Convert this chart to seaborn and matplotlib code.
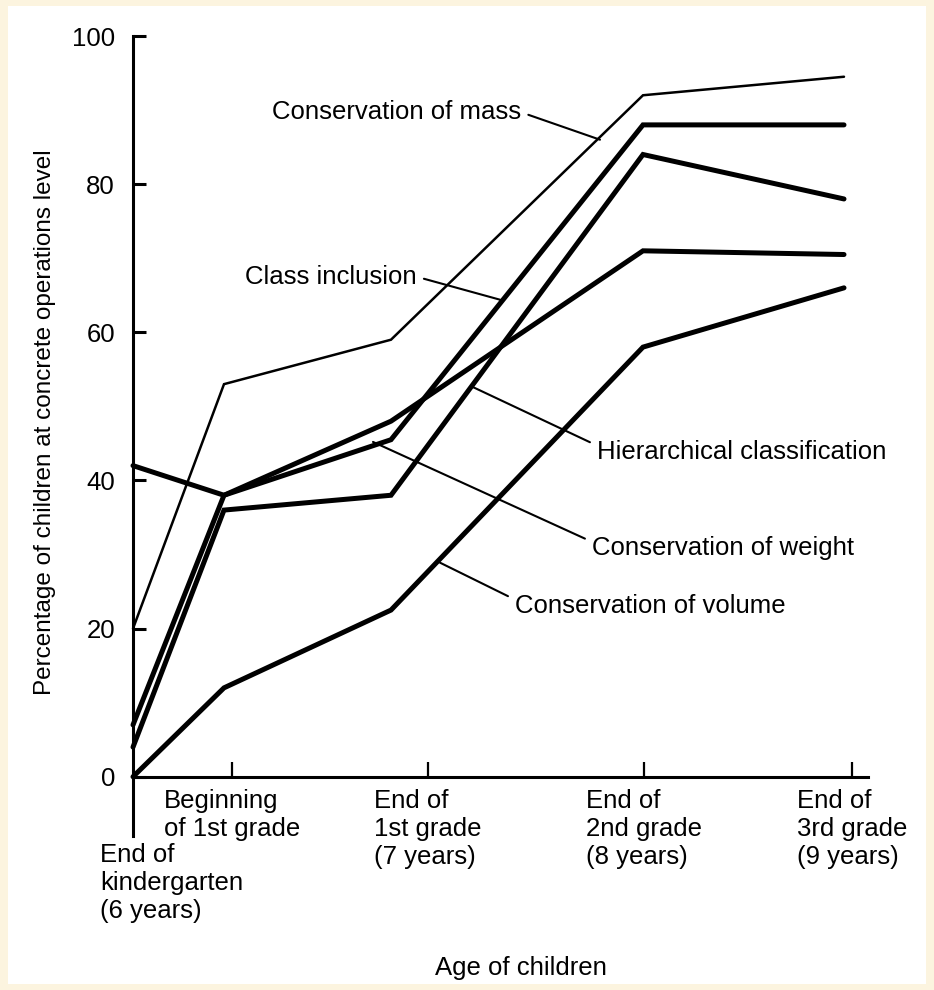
import numpy as np
import pandas as pd
import seaborn as sns
from matplotlib import pyplot as plt
from matplotlib.patches import Rectangle

# where each survey point sits along the x axis (plot units)
stage_x = [0.0, 0.455, 1.29, 2.55, 3.555]

mass = [20, 53, 59, 92, 94.5]
class_inclusion = [7, 38, 45.5, 88, 88]
hierarchical = [4, 36, 38, 84, 78]
weight = [42, 38, 48, 71, 70.5]
volume = [0, 12, 22.5, 58, 66]

series_names = ['Conservation of mass', 'Class inclusion', 'Hierarchical classification',
                'Conservation of weight', 'Conservation of volume']

tick_x = [0.495, 1.475, 2.555, 3.595]
tick_labels = ['Beginning\nof 1st grade', 'End of\n1st grade\n(7 years)',
               'End of\n2nd grade\n(8 years)', 'End of\n3rd grade\n(9 years)']
first_label = 'End of\nkindergarten\n(6 years)'
y_ticks = [0, 20, 40, 60, 80, 100]

sns.set_style('white')
plt.rcParams['font.family'] = ['Liberation Sans', 'DejaVu Sans']
for key in ['text.color', 'axes.labelcolor', 'xtick.color', 'ytick.color', 'axes.edgecolor']:
    plt.rcParams[key] = 'black'

df = pd.DataFrame({
    'x': stage_x * 5,
    'pct': mass + class_inclusion + hierarchical + weight + volume,
    'name': [n for n in series_names for _ in stage_x],
})

W, H = 934, 990
fig = plt.figure(figsize=(W / 100, H / 100), dpi=100)
fig.patch.set_facecolor('#fcf4df')
fig.patches.append(Rectangle((8 / W, 6 / H), (W - 16) / W, (H - 12) / H,
                             transform=fig.transFigure, facecolor='white',
                             edgecolor='none', zorder=-1))

ax = fig.add_axes([133 / W, 1 - 836 / H, (868 - 133) / W, (836 - 36) / H])
ax.set_facecolor('none')

widths = {'Conservation of mass': 1.8}
for name in series_names:
    sub = df[df['name'] == name]
    sns.lineplot(data=sub, x='x', y='pct', ax=ax, color='black',
                 lw=widths.get(name, 3.6), solid_joinstyle='miter', clip_on=False)

ax.set_xlim(0, 3.675)
ax.set_ylim(-8, 100)
ax.set_xlabel('')
ax.set_ylabel('')

for s in ['top', 'right']:
    ax.spines[s].set_visible(False)
ax.spines['left'].set_linewidth(2.2)
ax.spines['bottom'].set_linewidth(2.2)
ax.spines['bottom'].set_position(('data', 0))

ax.set_yticks(y_ticks)
ax.set_yticklabels([str(v) for v in y_ticks])
ax.tick_params(axis='y', direction='in', length=9, width=2.2, labelsize=18.5, pad=13, left=True)
ax.set_xticks(tick_x)
ax.set_xticklabels(tick_labels)
ax.tick_params(axis='x', direction='in', length=11, width=1.6, labelsize=18.5, pad=9, bottom=True)
for lbl in ax.get_xticklabels():
    lbl.set_multialignment('left')
    lbl.set_verticalalignment('top')

ax.text(-0.165, -9.0, first_label, ha='left', va='top', fontsize=18.5,
        multialignment='left', linespacing=1.2, clip_on=False)

# labels with leader lines: (text x, text y, leader end x, leader end y, side)
notes = {
    'Conservation of mass': (0.695, 89.7, 2.335, 86.0, 'right'),
    'Class inclusion': (0.56, 67.5, 1.835, 64.4, 'right'),
    'Hierarchical classification': (2.32, 43.9, 1.70, 52.6, 'left'),
    'Conservation of weight': (2.295, 30.9, 1.20, 45.2, 'left'),
    'Conservation of volume': (1.91, 23.1, 1.535, 28.9, 'left'),
}
for name, (tx, ty, ex, ey, side) in notes.items():
    rel = (1.0, 0.5) if side == 'right' else (0.0, 0.75)
    ax.annotate(name, xy=(ex, ey), xytext=(tx, ty), ha='left', va='center',
                fontsize=18.5, annotation_clip=False,
                arrowprops=dict(arrowstyle='-', lw=1.5, color='black',
                                relpos=rel, shrinkA=3, shrinkB=0))

fig.text(45 / W, 1 - 422 / H, 'Percentage of children at concrete operations level',
         rotation=90, ha='center', va='center', fontsize=17.5)
fig.text(521 / W, 1 - 968 / H, 'Age of children', ha='center', va='center', fontsize=18.5)

plt.savefig('out.png', dpi=100, facecolor=fig.get_facecolor())
